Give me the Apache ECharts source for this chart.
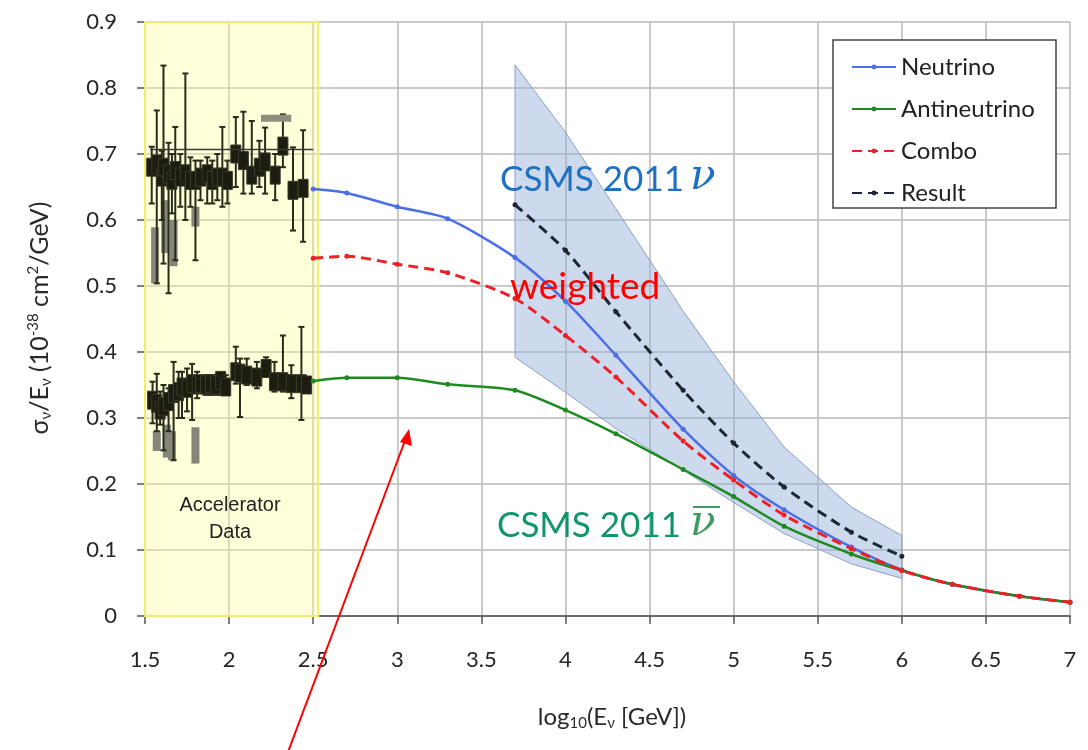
<!DOCTYPE html>
<html>
<head>
<meta charset="utf-8">
<script src="https://cdn.jsdelivr.net/npm/echarts@6/dist/echarts.min.js"></script>
<style>
  html, body { margin: 0; padding: 0; background: #fff; }
  #main { width: 1088px; height: 750px; }
</style>
</head>
<body>
<div id="main"></div>
<script>
// log10(E) points of the CSMS 2011 curves
const energies = [2.5, 2.7, 3, 3.3, 3.7, 4, 4.3, 4.7, 5, 5.3, 5.7, 6, 6.3, 6.7, 7]
const neutrino = [0.647, 0.641, 0.620, 0.602, 0.543, 0.477, 0.395, 0.283, 0.213, 0.161, 0.1045, 0.070, 0.048, 0.030, 0.021]
const antineutrino = [0.356, 0.361, 0.361, 0.351, 0.342, 0.312, 0.276, 0.222, 0.181, 0.136, 0.094, 0.069, 0.048, 0.030, 0.021]
const combo = [0.542, 0.545, 0.533, 0.520, 0.481, 0.425, 0.362, 0.265, 0.206, 0.153, 0.102, 0.069, 0.048, 0.030, 0.021]

// result and its uncertainty band
const resultX = [3.7, 4, 4.3, 4.7, 5, 5.3, 5.7, 6]
const result = [0.623, 0.554, 0.461, 0.342, 0.262, 0.1955, 0.127, 0.0905]
const bandHi = [0.835, 0.733, 0.617, 0.462, 0.355, 0.256, 0.165, 0.122]
const bandLo = [0.392, 0.339, 0.284, 0.221, 0.172, 0.125, 0.079, 0.057]

// accelerator data: [x, centre, low, high]
const accNu = [
  [1.54, 0.680, 0.625, 0.711], [1.57, 0.685, 0.504, 0.766], [1.60, 0.665, 0.600, 0.705],
  [1.61, 0.680, 0.534, 0.834], [1.64, 0.670, 0.489, 0.717], [1.66, 0.660, 0.610, 0.700],
  [1.68, 0.675, 0.539, 0.741], [1.71, 0.665, 0.620, 0.700], [1.74, 0.670, 0.600, 0.822],
  [1.77, 0.660, 0.620, 0.695], [1.80, 0.660, 0.539, 0.690], [1.83, 0.665, 0.630, 0.690],
  [1.87, 0.670, 0.625, 0.695], [1.90, 0.660, 0.625, 0.690], [1.93, 0.665, 0.630, 0.700],
  [1.96, 0.665, 0.620, 0.741], [1.99, 0.660, 0.625, 0.690], [2.04, 0.700, 0.650, 0.756],
  [2.085, 0.690, 0.640, 0.764], [2.135, 0.668, 0.640, 0.750], [2.18, 0.680, 0.650, 0.720],
  [2.214, 0.688, 0.640, 0.740], [2.274, 0.668, 0.630, 0.700], [2.32, 0.712, 0.680, 0.760],
  [2.38, 0.645, 0.584, 0.710], [2.44, 0.648, 0.567, 0.736]
]
const accAnti = [
  [1.545, 0.327, 0.292, 0.355], [1.57, 0.322, 0.280, 0.367], [1.59, 0.312, 0.290, 0.340],
  [1.61, 0.317, 0.251, 0.350], [1.64, 0.325, 0.280, 0.345], [1.67, 0.337, 0.236, 0.385],
  [1.70, 0.340, 0.300, 0.370], [1.72, 0.347, 0.300, 0.370], [1.75, 0.345, 0.310, 0.375],
  [1.78, 0.352, 0.297, 0.382], [1.81, 0.350, 0.330, 0.370], [1.83, 0.352, 0.340, 0.360],
  [1.86, 0.350, 0.335, 0.365], [1.89, 0.352, 0.335, 0.365], [1.92, 0.350, 0.335, 0.365],
  [1.95, 0.357, 0.335, 0.365], [1.98, 0.347, 0.335, 0.365], [2.04, 0.370, 0.352, 0.408],
  [2.065, 0.368, 0.3015, 0.390], [2.105, 0.365, 0.350, 0.390], [2.165, 0.362, 0.345, 0.385],
  [2.22, 0.375, 0.365, 0.392], [2.27, 0.355, 0.340, 0.385], [2.32, 0.355, 0.340, 0.425],
  [2.37, 0.352, 0.330, 0.380], [2.43, 0.352, 0.297, 0.438], [2.46, 0.350, 0.345, 0.355]
]
// lighter grey points: [x, low, high]
const accGrey = [
  [1.56, 0.504, 0.589], [1.62, 0.550, 0.630], [1.67, 0.530, 0.600], [1.80, 0.590, 0.620],
  [1.57, 0.250, 0.280], [1.63, 0.240, 0.290], [1.66, 0.236, 0.280], [1.80, 0.231, 0.286]
]
const accRefLine = [[1.53, 0.707], [2.5, 0.707]]
const accGreyBar = [[2.19, 0.754], [2.37, 0.754]]
const accRegion = [1.5, 2.53]

const FONT = 'Lato'

const chart = echarts.init(document.getElementById('main'))

function curve (name, ys, xs, color, dashed, width) {
  return {
    name: name,
    type: 'line',
    data: xs.map((x, i) => [x, ys[i]]),
    smooth: 0.25,
    symbol: 'circle',
    symbolSize: 5,
    itemStyle: { color: color },
    lineStyle: { color: color, width: width, type: dashed ? [10, 6] : 'solid' },
    z: 5
  }
}

const option = {
  animation: false,
  backgroundColor: '#fff',
  grid: { left: 145, right: 18, top: 22, bottom: 134 },
  xAxis: {
    type: 'value', min: 1.5, max: 7, interval: 0.5,
    axisLine: { show: true, onZero: false, lineStyle: { color: '#6a6a6a', width: 2 } },
    axisTick: { show: true, length: 8, lineStyle: { color: '#555', width: 1.5 } },
    axisLabel: { margin: 33, fontSize: 22, color: '#262626', fontFamily: FONT },
    splitLine: { show: true, lineStyle: { color: '#b8b8b8', width: 1.5 } }
  },
  yAxis: {
    type: 'value', min: 0, max: 0.9, interval: 0.1,
    axisLine: { show: true, lineStyle: { color: '#6a6a6a', width: 2 } },
    axisTick: { show: true, length: 8, lineStyle: { color: '#555', width: 1.5 } },
    axisLabel: { margin: 28, fontSize: 22, color: '#262626', fontFamily: FONT },
    splitLine: { show: true, lineStyle: { color: '#b8b8b8', width: 1.5 } }
  },
  legend: {
    data: ['Neutrino', 'Antineutrino', 'Combo', 'Result'],
    orient: 'vertical', left: 846, top: 50,
    itemWidth: 44, itemHeight: 6, itemGap: 18,
    textStyle: { fontSize: 24, fontFamily: FONT, color: '#222', lineHeight: 24 }
  },
  series: [
    {
      name: 'accelerator',
      type: 'custom',
      data: accNu.concat(accAnti),
      encode: { x: 0, y: [1, 2, 3] },
      silent: true,
      z: 2,
      renderItem: function (params, api) {
        const c = api.coord([api.value(0), api.value(1)])
        const lo = api.coord([api.value(0), api.value(2)])
        const hi = api.coord([api.value(0), api.value(3)])
        return {
          type: 'group',
          children: [
            { type: 'line', shape: { x1: c[0], y1: lo[1], x2: c[0], y2: hi[1] }, style: { stroke: '#2b2b1c', lineWidth: 2 } },
            { type: 'line', shape: { x1: c[0] - 3, y1: hi[1], x2: c[0] + 3, y2: hi[1] }, style: { stroke: '#2b2b1c', lineWidth: 2 } },
            { type: 'line', shape: { x1: c[0] - 3, y1: lo[1], x2: c[0] + 3, y2: lo[1] }, style: { stroke: '#2b2b1c', lineWidth: 2 } },
            { type: 'rect', shape: { x: c[0] - 5, y: c[1] - 9, width: 10, height: 18 }, style: { fill: '#1c1c10', stroke: '#3a3a2a', lineWidth: 1 } }
          ]
        }
      },
      markArea: {
        silent: true,
        itemStyle: { color: 'rgba(255,255,150,0.35)', borderColor: '#f0ec70', borderWidth: 2 },
        data: [[{ xAxis: accRegion[0], yAxis: 0 }, { xAxis: accRegion[1], yAxis: 0.9 }]]
      }
    },
    {
      name: 'accGrey',
      type: 'custom',
      data: accGrey,
      encode: { x: 0, y: [1, 2] },
      silent: true,
      z: 1,
      renderItem: function (params, api) {
        const lo = api.coord([api.value(0), api.value(1)])
        const hi = api.coord([api.value(0), api.value(2)])
        return { type: 'rect', shape: { x: lo[0] - 4, y: hi[1], width: 8, height: lo[1] - hi[1] }, style: { fill: '#85857a' } }
      }
    },
    {
      name: 'accRef', type: 'line', data: accRefLine, symbol: 'none', silent: true,
      lineStyle: { color: '#3a3a30', width: 1.5 }, z: 3
    },
    {
      name: 'accGreyBar', type: 'line', data: accGreyBar, symbol: 'none', silent: true,
      lineStyle: { color: '#8e8e7c', width: 7 }, z: 3
    },
    {
      name: 'band',
      type: 'custom',
      data: resultX.map((x, i) => [x, bandLo[i], bandHi[i]]),
      encode: { x: 0, y: [1, 2] },
      silent: true,
      z: 1,
      renderItem: function (params, api) {
        if (params.dataIndex !== 0) return null
        const pts = []
        for (let i = 0; i < resultX.length; i++) pts.push(api.coord([resultX[i], bandHi[i]]))
        for (let i = resultX.length - 1; i >= 0; i--) pts.push(api.coord([resultX[i], bandLo[i]]))
        return { type: 'polygon', shape: { points: pts }, style: { fill: 'rgba(150,176,216,0.48)', stroke: '#8ba2c6', lineWidth: 1 } }
      }
    },
    curve('Neutrino', neutrino, energies, '#4c6fe4', false, 2.5),
    curve('Antineutrino', antineutrino, energies, '#1f8a22', false, 2.5),
    curve('Combo', combo, energies, '#ee2027', true, 3),
    curve('Result', result, resultX, '#1e2634', true, 3)
  ],
  graphic: [
    { type: 'rect', z: 3, shape: { x: 833, y: 40, width: 223, height: 168 }, style: { fill: '#fff', stroke: '#444', lineWidth: 1.5 } },
    {
      type: 'text', x: 40, y: 318, rotation: Math.PI / 2, z: 6,
      style: {
        text: '{n|σ}{s|ν}{n|/E}{s|ν}{n| (10}{p|-38}{n| cm}{p|2}{n|/GeV)}',
        align: 'center', verticalAlign: 'middle', fill: '#333',
        rich: {
          n: { fontSize: 25, fontFamily: FONT, fill: '#2a2a2a' },
          s: { fontSize: 15, fontFamily: FONT, fill: '#2a2a2a', padding: [12, 0, 0, 0] },
          p: { fontSize: 15, fontFamily: FONT, fill: '#2a2a2a', padding: [0, 0, 14, 0] }
        }
      }
    },
    {
      type: 'text', x: 612, y: 717, z: 6,
      style: {
        text: '{n|log}{s|10}{n|(E}{s|ν}{n| [GeV])}',
        align: 'center', verticalAlign: 'middle', fill: '#333',
        rich: {
          n: { fontSize: 24, fontFamily: FONT, fill: '#2a2a2a' },
          s: { fontSize: 15, fontFamily: FONT, fill: '#2a2a2a', padding: [12, 0, 0, 0] }
        }
      }
    },
    { type: 'text', x: 230, y: 505, z: 6, style: { text: 'Accelerator', align: 'center', verticalAlign: 'middle', fontSize: 20, fontFamily: 'Liberation Sans', fill: '#222' } },
    { type: 'text', x: 230, y: 532, z: 6, style: { text: 'Data', align: 'center', verticalAlign: 'middle', fontSize: 20, fontFamily: 'Liberation Sans', fill: '#222' } },
    { type: 'text', x: 500, y: 180, z: 6, style: { text: 'CSMS 2011', align: 'left', verticalAlign: 'middle', fontSize: 35, fontFamily: FONT, fill: '#1f70c2' } },
    { type: 'text', x: 690, y: 178, z: 6, style: { text: 'ν', align: 'left', verticalAlign: 'middle', fontSize: 42, fontStyle: 'italic', fontFamily: 'DejaVu Serif', fill: '#1f70c2' } },
    { type: 'text', x: 510, y: 287, z: 6, style: { text: 'weighted', align: 'left', verticalAlign: 'middle', fontSize: 37, fontFamily: FONT, fill: '#ff0000' } },
    { type: 'text', x: 497, y: 526, z: 6, style: { text: 'CSMS 2011', align: 'left', verticalAlign: 'middle', fontSize: 35, fontFamily: FONT, fill: '#10966a' } },
    { type: 'text', x: 690, y: 524, z: 6, style: { text: 'ν', align: 'left', verticalAlign: 'middle', fontSize: 42, fontStyle: 'italic', fontFamily: 'DejaVu Serif', fill: '#3f9b60' } },
    { type: 'line', z: 6, shape: { x1: 693, y1: 507, x2: 720, y2: 507 }, style: { stroke: '#3f9b60', lineWidth: 2 } },
    { type: 'line', z: 6, shape: { x1: 288, y1: 752, x2: 406, y2: 438 }, style: { stroke: '#ff0000', lineWidth: 2 } },
    { type: 'polygon', z: 6, shape: { points: [[409, 429], [400, 442], [412, 446]] }, style: { fill: '#ff0000' } }
  ]
}

chart.setOption(option)
</script>
</body>
</html>
